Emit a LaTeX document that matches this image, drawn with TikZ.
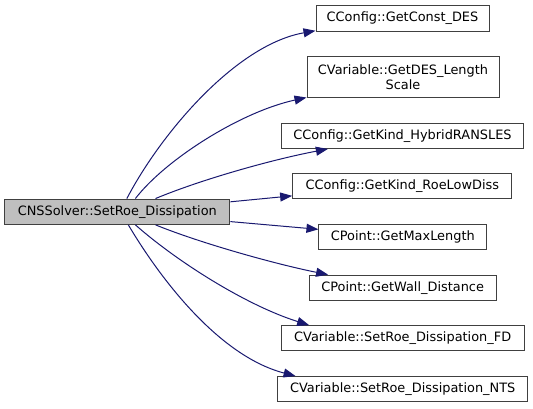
\documentclass[tikz,border=0pt]{standalone}
\usepackage{fontspec}
\setmainfont{DejaVu Sans}
\usetikzlibrary{arrows.meta}
\definecolor{edgeblue}{HTML}{191970}
\definecolor{frame}{HTML}{404040}
\definecolor{current}{HTML}{BFBFBF}
\tikzset{
  fn/.style={draw=frame, fill=white, line width=1pt, inner sep=0pt,
             minimum height=25.3pt, align=center,
             font=\fontsize{12.9}{15}\selectfont},
  curfn/.style={fn, fill=current},
  call/.style={-{Triangle[length=12pt,width=9pt]}, line width=1pt, draw=edgeblue}
}
\begin{document}
\begin{tikzpicture}[x=1pt,y=-1pt]
  \useasboundingbox (0,0) rectangle (533,408);

  \node[curfn, minimum width=225.3pt] (solver) at (117.3,211.7) {CNSSolver::SetRoe\_Dissipation};

  \node[fn, minimum width=173pt] (constdes) at (402.5,18.5) {CConfig::GetConst\_DES};
  \node[fn, minimum width=192pt, minimum height=40.6pt] (lenscale) at (403,77) {CVariable::GetDES\_Length\\Scale};
  \node[fn, minimum width=241.6pt] (hybrid) at (402.5,135.8) {CConfig::GetKind\_HybridRANSLES};
  \node[fn, minimum width=219.3pt] (lowdiss) at (402.3,186.2) {CConfig::GetKind\_RoeLowDiss};
  \node[fn, minimum width=167.7pt] (maxlen) at (402.8,236.7) {CPoint::GetMaxLength};
  \node[fn, minimum width=186.7pt] (walldist) at (402.7,287.8) {CPoint::GetWall\_Distance};
  \node[fn, minimum width=243.3pt] (dissfd) at (402.7,338.3) {CVariable::SetRoe\_Dissipation\_FD};
  \node[fn, minimum width=250pt] (dissnts) at (402.7,389.2) {CVariable::SetRoe\_Dissipation\_NTS};

  % calls, top to bottom
  \draw[call] (solver.54) .. controls (160,135) and (235,45) .. (constdes.188);
  \draw[call] (solver.36) .. controls (165,160) and (240,112) .. (lenscale.192);
  \draw[call] (solver.19) .. controls (200,180) and (270,160) .. (hybrid.190);
  \draw[call] (solver.5) -- (lowdiss.185);
  \draw[call] (solver.355) -- (maxlen.175);
  \draw[call] (solver.341) .. controls (200,243) and (275,264) .. (walldist.170);
  \draw[call] (solver.324) .. controls (175,260) and (245,305) .. (dissfd.172);
  \draw[call] (solver.310) .. controls (155,270) and (215,355) .. (dissnts.173);
\end{tikzpicture}
\end{document}
